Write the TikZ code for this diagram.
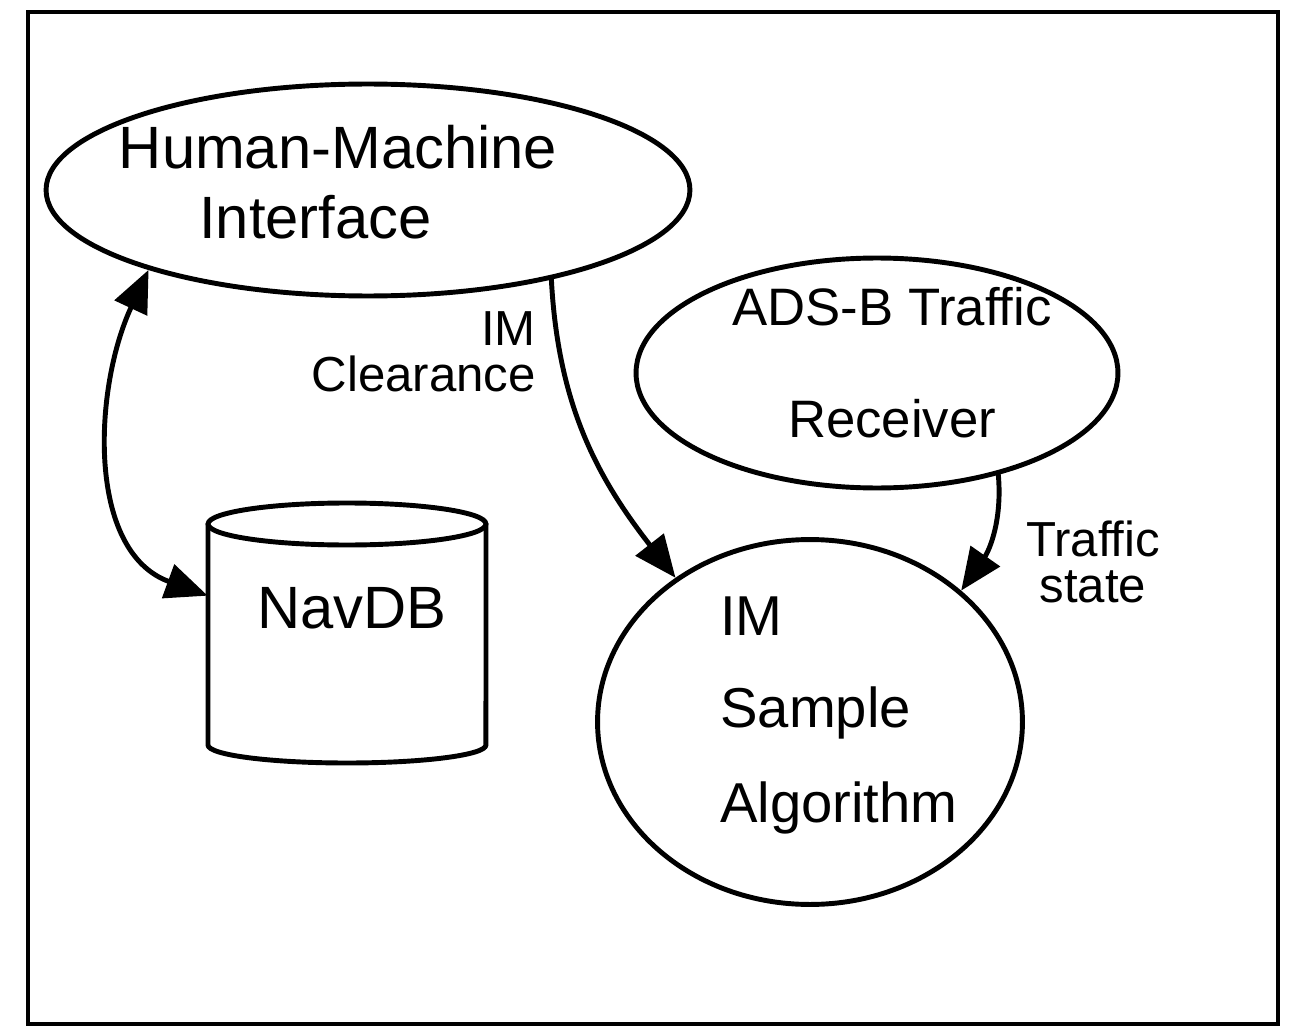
\documentclass[tikz,border=0pt]{standalone}
\usepackage{fontspec}
\setmainfont{Liberation Sans}
\usetikzlibrary{shapes.geometric,arrows.meta}
\begin{document}
\begin{tikzpicture}[x=0.02cm,y=-0.02cm,
  sk/.style={line width=2.8pt, line cap=round, line join=round},
  bubble/.style={sk, draw, ellipse, inner sep=-60pt},
  tip/.tip={Triangle[length=24pt,width=20pt]},
  arr/.style={sk, -tip},
  darr/.style={sk, tip-tip},
  big/.style={font=\fontsize{34}{40}\selectfont},
  lbl/.style={font=\fontsize{28}{26}\selectfont}]
\useasboundingbox (0,0) rectangle (1289,1034);
\draw[line width=2pt] (28,12) rectangle (1278,1024);

\node[bubble, big, align=center, minimum width=12.88cm, minimum height=4.24cm] (hmi) at (368,190) {Human-Machine\hspace*{1.2cm}\\Interface\hspace*{2.1cm}\rule[-9pt]{0pt}{9pt}};
\node[bubble, font=\fontsize{30}{38}\selectfont, align=center, minimum width=9.64cm, minimum height=4.6cm] (adsb) at (877,373) {\hspace*{0.6cm}ADS-B Traffic\\[26pt]\hspace*{0.6cm}Receiver\rule[-12pt]{0pt}{12pt}};
\node[bubble, font=\fontsize{32}{40}\selectfont, align=left, minimum width=8.5cm, minimum height=7.3cm] (im) at (810,722) {\hspace*{1.16cm}IM\\[12pt]\hspace*{1.16cm}Sample\\[14pt]\hspace*{1.16cm}Algorithm\rule[-14pt]{0pt}{14pt}};

% NavDB cylinder
\node[rectangle, minimum width=5.56cm, minimum height=5.2cm, inner sep=0pt] (navdb) at (347,633) {};
\draw[sk] (347,524) ellipse [x radius=2.78cm, y radius=0.42cm];
\draw[sk] (208,524) -- (208,745) arc[start angle=180, end angle=360, x radius=2.78cm, y radius=0.36cm] -- (486,524);
\node[big] (navdbtext) at (352,608) {NavDB};

\draw[darr] (hmi.200) to[out=245,in=160] (navdb.165);
\draw[arr] (hmi.-26) to[out=-87,in=128] (im.133);
\draw[arr] (adsb.-40) to[out=-85,in=55] (im.41);

\node[lbl, align=right, anchor=east] (clr) at (542,352) {IM\\Clearance};
\node[lbl, align=center] (tst) at (1093,562) {Traffic\\state};
\end{tikzpicture}
\end{document}
